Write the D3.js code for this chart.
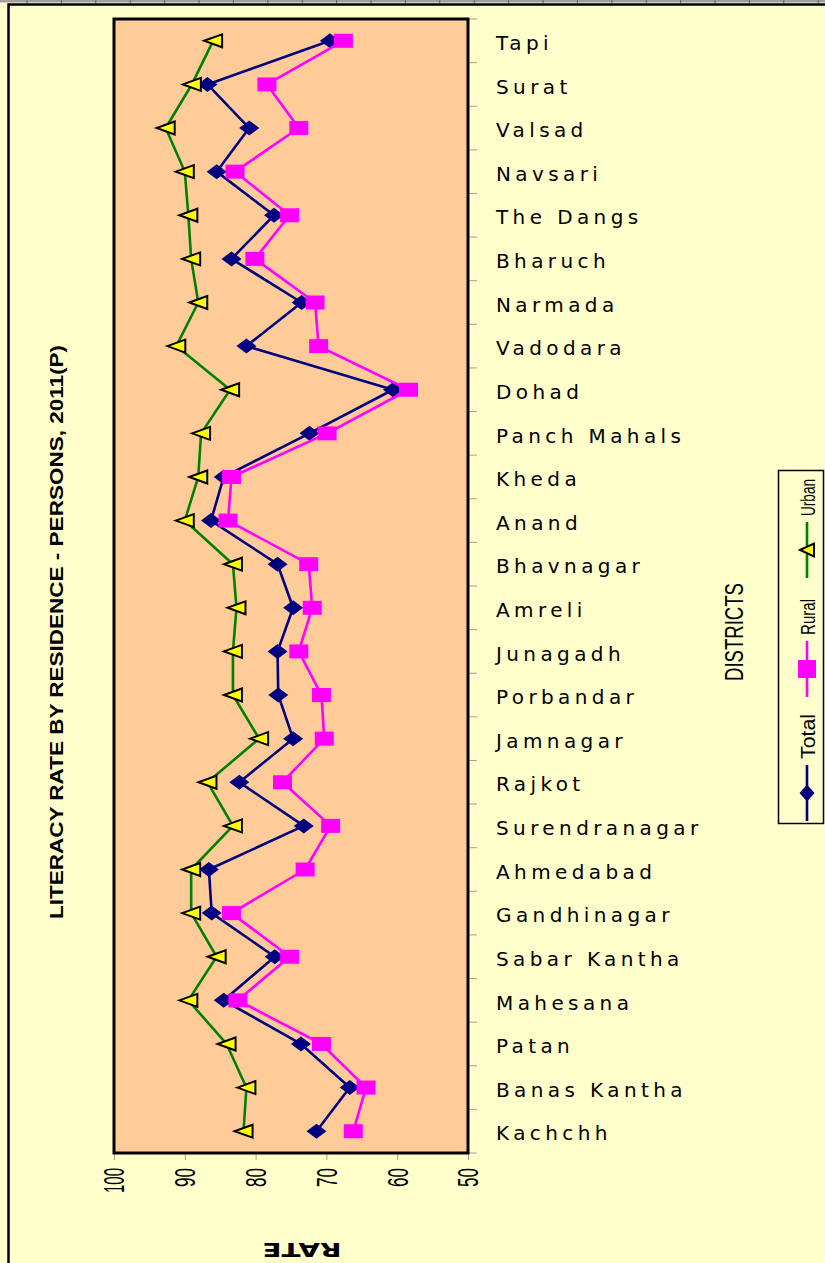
<!DOCTYPE html>
<html>
<head>
<meta charset="utf-8">
<script src="https://cdn.jsdelivr.net/npm/d3@7"></script>
<style>
  html, body { margin: 0; padding: 0; background: #FFFFCC; }
  svg { display: block; }
</style>
</head>
<body>
<svg id="chart" width="825" height="1263"></svg>
<script>
// districts from top (Tapi) to bottom (Kachchh)
var districts = ["Tapi", "Surat", "Valsad", "Navsari", "The Dangs", "Bharuch", "Narmada", "Vadodara",
  "Dohad", "Panch Mahals", "Kheda", "Anand", "Bhavnagar", "Amreli", "Junagadh", "Porbandar",
  "Jamnagar", "Rajkot", "Surendranagar", "Ahmedabad", "Gandhinagar", "Sabar Kantha", "Mahesana",
  "Patan", "Banas Kantha", "Kachchh"];

var totalRate = [69.5, 86.8, 80.9, 85.5, 77.4, 83.4, 73.5, 81.3, 60.6, 72.4, 84.5, 86.3, 76.9,
  74.7, 76.9, 76.8, 74.7, 82.3, 73.2, 86.6, 86.2, 77.3, 84.5, 73.6, 66.7, 71.4];
var ruralRate = [67.6, 78.4, 73.9, 82.9, 75.2, 80.1, 71.6, 71.1, 58.4, 69.9, 83.4, 83.9, 72.5,
  72.0, 73.9, 70.7, 70.3, 76.2, 69.4, 73.0, 83.4, 75.2, 82.5, 70.7, 64.4, 66.2];
var urbanRate = [86.0, 89.0, 92.7, 90.0, 89.5, 89.1, 88.1, 91.2, 83.6, 87.7, 88.1, 90.0, 83.2,
  82.7, 83.2, 83.2, 79.5, 86.8, 83.2, 89.1, 89.1, 85.5, 89.5, 84.1, 81.3, 81.7];

var rateTicks = [100, 90, 80, 70, 60, 50];
var seriesNames = ["Total", "Rural", "Urban"];

var plot = {left: 114, right: 468, top: 19, bottom: 1153};

var xScale = d3.scaleLinear()
  .domain([50, 100])
  .range([plot.right, plot.left]);

var yScale = d3.scaleBand()
  .domain(districts)
  .range([plot.top, plot.bottom]);

var series = [
  {name: seriesNames[0], values: totalRate, color: "#000080", marker: "diamond"},
  {name: seriesNames[1], values: ruralRate, color: "#FF00FF", marker: "square"},
  {name: seriesNames[2], values: urbanRate, color: "#008000", marker: "triangle"}
];

function markerPath(type, w, h) {
  var hw = w / 2, hh = h / 2;
  if (type == "diamond") return "M" + (-hw) + ",0L0," + (-hh) + "L" + hw + ",0L0," + hh + "Z";
  if (type == "square") return "M" + (-hw) + "," + (-hh) + "h" + w + "v" + h + "h" + (-w) + "Z";
  return "M" + (-hw) + ",0L" + hw + "," + (-hh) + "L" + hw + "," + hh + "Z";
}

function drawMarker(sel, type, big) {
  if (type == "diamond") {
    sel.append("path").attr("d", markerPath("diamond", big ? 20 : 15, big ? 15 : 17))
      .attr("fill", "#000080");
  } else if (type == "square") {
    sel.append("path").attr("d", markerPath("square", big ? 19 : 18, big ? 14 : 18))
      .attr("fill", "#FF00FF");
  } else {
    sel.append("path").attr("d", markerPath("triangle", big ? 18 : 14, 13))
      .attr("fill", "#FFFF00").attr("stroke", "#000").attr("stroke-width", 2)
      .attr("stroke-linejoin", "miter");
  }
}

var svg = d3.select("#chart");

// background + frame
svg.append("rect").attr("width", 825).attr("height", 1263).attr("fill", "#FFFFCC");
svg.append("line").attr("x1", 0).attr("x2", 825).attr("y1", 1).attr("y2", 1)
  .attr("stroke", "#A0A0A0").attr("stroke-width", 3);
d3.range(27, 825, 34.4).forEach(function(x) {
  svg.append("line").attr("x1", x).attr("x2", x).attr("y1", 0).attr("y2", 3)
    .attr("stroke", "#606060").attr("stroke-width", 1);
});
svg.append("rect").attr("x", 8.5).attr("y", 4.5).attr("width", 830).attr("height", 1270)
  .attr("fill", "none").attr("stroke", "#000").attr("stroke-width", 2.5);

// plot area
svg.append("rect")
  .attr("x", plot.left).attr("y", plot.top)
  .attr("width", plot.right - plot.left).attr("height", plot.bottom - plot.top)
  .attr("fill", "#FFCC99");

// district boundary ticks on the right
var bounds = districts.map(function(d) { return yScale(d); }).concat([plot.bottom]);
svg.append("g").selectAll("line")
  .data(bounds)
  .enter().append("line")
  .attr("x1", plot.right).attr("x2", plot.right + 9)
  .attr("y1", function(d) { return d; }).attr("y2", function(d) { return d; })
  .attr("stroke", "#A0A0A0").attr("stroke-width", 1);

// district labels
var yAxis = svg.append("g")
  .attr("transform", "translate(" + plot.right + ",0)")
  .call(d3.axisRight(yScale).tickSize(0).tickPadding(28));
yAxis.select(".domain").remove();
yAxis.selectAll("text")
  .attr("dy", "0.46em")
  .attr("fill", "#000")
  .style("font-family", "'DejaVu Sans', sans-serif")
  .style("font-size", "20px")
  .style("letter-spacing", "4.4px");

// rate axis
var xAxis = svg.append("g")
  .attr("transform", "translate(0," + plot.bottom + ")")
  .call(d3.axisBottom(xScale).tickValues(rateTicks).tickSize(7).tickFormat(d3.format("d")));
xAxis.select(".domain").remove();
xAxis.selectAll("line").attr("stroke", "#A0A0A0");
xAxis.selectAll("text")
  .attr("x", -15).attr("y", 0).attr("dy", "0.33em")
  .attr("text-anchor", "end")
  .attr("transform", "rotate(-90)")
  .attr("textLength", function(d) { return String(d).length == 3 ? 25 : 19; })
  .attr("lengthAdjust", "spacingAndGlyphs")
  .attr("fill", "#000")
  .style("font-family", "'Liberation Sans', Arial, sans-serif")
  .style("font-size", "30px");

// lines then markers
var line = d3.line()
  .x(function(d) { return xScale(d.v); })
  .y(function(d) { return yScale(d.name) + yScale.bandwidth() / 2; });

series.forEach(function(s) {
  var pts = districts.map(function(name, i) { return {name: name, v: s.values[i]}; });
  svg.append("path")
    .datum(pts)
    .attr("d", line)
    .attr("fill", "none")
    .attr("stroke", s.color)
    .attr("stroke-width", 2.6)
    .attr("stroke-linejoin", "round");
  var marks = svg.append("g").selectAll("g")
    .data(pts)
    .enter().append("g")
    .attr("transform", function(d) {
      return "translate(" + xScale(d.v) + "," + (yScale(d.name) + yScale.bandwidth() / 2) + ")";
    });
  drawMarker(marks, s.marker, true);
});

// plot border on top
svg.append("rect")
  .attr("x", plot.left).attr("y", plot.top)
  .attr("width", plot.right - plot.left).attr("height", plot.bottom - plot.top)
  .attr("fill", "none").attr("stroke", "#000").attr("stroke-width", 3);

// title
svg.append("text")
  .attr("transform", "translate(63,632) rotate(-90)")
  .attr("text-anchor", "middle")
  .attr("textLength", 574).attr("lengthAdjust", "spacingAndGlyphs")
  .style("font-family", "'Liberation Sans', Arial, sans-serif")
  .style("font-weight", "bold").style("font-size", "19px")
  .text("LITERACY RATE BY RESIDENCE - PERSONS, 2011(P)");

// axis titles
svg.append("text")
  .attr("transform", "translate(302,1243) rotate(180)")
  .attr("text-anchor", "middle")
  .attr("textLength", 79).attr("lengthAdjust", "spacingAndGlyphs")
  .style("font-family", "'DejaVu Sans', sans-serif")
  .style("font-weight", "bold").style("font-size", "20px")
  .text("RATE");

svg.append("text")
  .attr("transform", "translate(743,632) rotate(-90)")
  .attr("text-anchor", "middle")
  .attr("textLength", 98).attr("lengthAdjust", "spacingAndGlyphs")
  .style("font-family", "'Liberation Sans', Arial, sans-serif")
  .style("font-size", "25px")
  .text("DISTRICTS");

// legend
var legend = svg.append("g");
legend.append("rect")
  .attr("x", 778.5).attr("y", 470.5).attr("width", 45).attr("height", 353)
  .attr("fill", "#FFFFCC").attr("stroke", "#000").attr("stroke-width", 1.5);

var legendCenters = [793, 669, 550];
series.forEach(function(s, i) {
  var cy = legendCenters[i];
  var item = legend.append("g").attr("transform", "translate(807," + cy + ")");
  item.append("line")
    .attr("x1", 0).attr("x2", 0).attr("y1", -28).attr("y2", 28)
    .attr("stroke", s.color).attr("stroke-width", 2.6);
  drawMarker(item, s.marker, false);
  item.append("text")
    .attr("transform", "translate(8,-34) rotate(-90)")
    .attr("textLength", [45, 36, 37][i]).attr("lengthAdjust", "spacingAndGlyphs")
    .style("font-family", "'Liberation Sans', Arial, sans-serif")
    .style("font-size", "21px")
    .text(s.name);
});
</script>
</body>
</html>
